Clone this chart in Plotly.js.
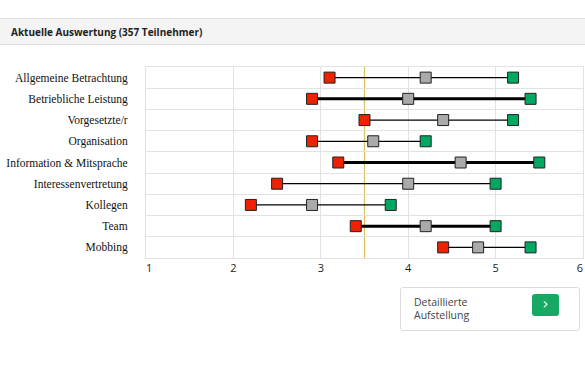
<!DOCTYPE html>
<html>
<head>
<meta charset="utf-8">
<script src="https://cdn.plot.ly/plotly-3.0.1.min.js"></script>
<style>
  html, body { margin: 0; padding: 0; background: #fff; width: 585px; height: 390px; overflow: hidden; }
  #header { position: absolute; left: 0; top: 18px; width: 585px; height: 27px; background: #f4f4f4;
            border-top: 1px solid #dedede; border-bottom: 1px solid #dedede; box-sizing: border-box; }
  #header span { position: absolute; left: 11px; top: 6px; font-family: "Open Sans", sans-serif; font-weight: 700;
                 font-size: 10px; color: #222; }
  #chart { position: absolute; left: 0; top: 0; width: 585px; height: 390px; }
  #box { position: absolute; left: 400px; top: 287px; width: 180px; height: 44px; border: 1px solid #dcdcdc;
         border-radius: 3px; box-sizing: border-box; background: #fff; }
  #box .txt { position: absolute; left: 13px; top: 8px; font-family: "Open Sans", sans-serif; font-size: 10.5px;
              line-height: 13px; color: #444; }
  #box .btn { position: absolute; left: 131px; top: 6px; width: 27px; height: 22px; background: #17a864;
              border-radius: 3px; color: #fff; font-family: "DejaVu Sans", sans-serif; font-size: 15px;
              text-align: center; line-height: 20px; }
</style>
</head>
<body>
<div id="chart"></div>
<div id="header"><span>Aktuelle Auswertung (357 Teilnehmer)</span></div>
<div id="box"><div class="txt">Detaillierte<br>Aufstellung</div><div class="btn">›</div></div>
<script>
const categories = ["Allgemeine Betrachtung", "Betriebliche Leistung", "Vorgesetzte/r", "Organisation",
  "Information & Mitsprache", "Interessenvertretung", "Kollegen", "Team", "Mobbing"];
const minValues  = [3.1, 2.9, 3.5, 2.9, 3.2, 2.5, 2.2, 3.4, 4.4];
const meanValues = [4.2, 4.0, 4.4, 3.6, 4.6, 4.0, 2.9, 4.2, 4.8];
const maxValues  = [5.2, 5.4, 5.2, 4.2, 5.5, 5.0, 3.8, 5.0, 5.4];
const emphasizedRows = ["Betriebliche Leistung", "Information & Mitsprache", "Team"];
const referenceValue = 3.5;
const xTicks = [1, 2, 3, 4, 5, 6];
const xRange = [xTicks[0], xTicks[xTicks.length - 1]];

const colors = ["#ee2200", "#aaaaaa", "#00a862"];
const traces = categories.map((c, i) => ({
  type: "scatter",
  mode: "lines+markers",
  x: [minValues[i], meanValues[i], maxValues[i]],
  y: [c, c, c],
  line: { color: "#000", width: emphasizedRows.includes(c) ? 3 : 1.3 },
  marker: { symbol: "square", size: 11, color: colors, line: { color: "#222", width: 1 } },
  hoverinfo: "x+y",
  showlegend: false
}));

const tickFont = { family: "Open Sans, sans-serif", size: 11, color: "#222" };
const first = xTicks.slice(0, 1);
const middle = xTicks.slice(1, -1);
const last = xTicks.slice(-1);

const edgeAxis = (vals, pos) => ({
  overlaying: "x", side: "bottom", anchor: "y", range: xRange,
  tickvals: vals, ticktext: vals.map(String),
  showgrid: false, zeroline: false, showline: false,
  ticks: "", ticklabelstandoff: 2,
  ticklabelposition: pos,
  tickfont: tickFont
});

const layout = {
  width: 585, height: 390,
  margin: { l: 146, r: 2, t: 67, b: 132 },
  paper_bgcolor: "rgba(0,0,0,0)",
  plot_bgcolor: "#fff",
  xaxis: {
    range: xRange, tickvals: xTicks, ticktext: xTicks.map(v => middle.includes(v) ? String(v) : ""),
    showgrid: true, gridcolor: "#e2e2e2", gridwidth: 1, zeroline: false,
    showline: true, linecolor: "#e2e2e2", mirror: true,
    ticks: "",
    tickfont: tickFont
  },
  xaxis2: edgeAxis(last, "outside left"),
  xaxis3: edgeAxis(first, "outside right"),
  yaxis: {
    type: "category", categoryorder: "array", categoryarray: categories,
    range: [categories.length - 0.5, -0.5],
    tickson: "boundaries", showgrid: true, gridcolor: "#e2e2e2", gridwidth: 1,
    showline: true, linecolor: "#e2e2e2", mirror: true,
    ticks: "", ticklabelstandoff: 15,
    tickfont: { family: "Liberation Serif, serif", size: 11.5, color: "#111" }
  },
  shapes: [{
    type: "line", xref: "x", yref: "paper", x0: referenceValue, x1: referenceValue, y0: 0, y1: 1,
    line: { color: "#e0c060", width: 1.3 }, layer: "below"
  }]
};

traces.push({ type: "scatter", x: [], y: [], xaxis: "x2", yaxis: "y", showlegend: false, hoverinfo: "skip" });
traces.push({ type: "scatter", x: [], y: [], xaxis: "x3", yaxis: "y", showlegend: false, hoverinfo: "skip" });

Plotly.newPlot("chart", traces, layout, { displayModeBar: false, staticPlot: true });
</script>
</body>
</html>
